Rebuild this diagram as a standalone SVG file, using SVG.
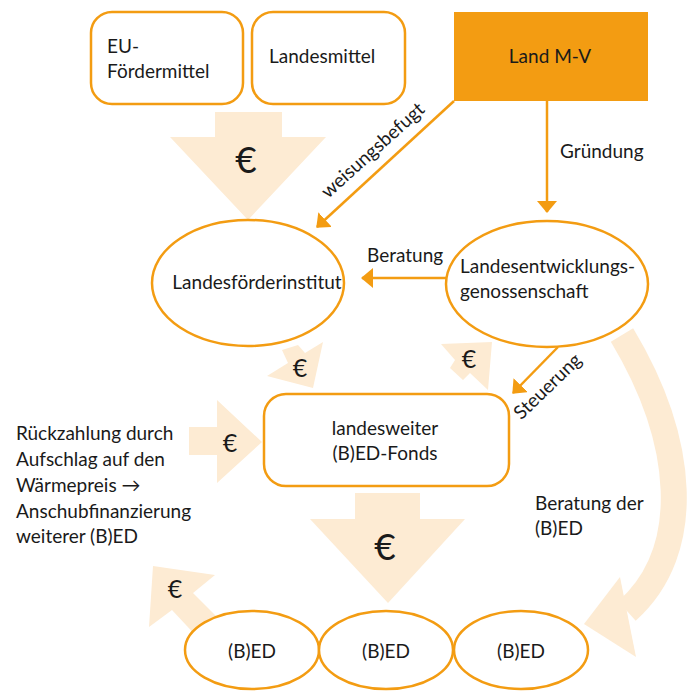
<svg xmlns="http://www.w3.org/2000/svg" width="692" height="691" viewBox="0 0 692 691">
<defs>
<style>
text{font-family:Lato,"Open Sans","Liberation Sans",sans-serif;font-size:19px;fill:#1a1a1a}
.box{fill:#fff;stroke:#F39C12;stroke-width:2.5}
.flow{fill:#FDEBD3}
.conn{stroke:#F39C12;stroke-width:2.5;fill:none;marker-end:url(#ah)}
.eur{font-size:25px;text-anchor:middle}
.eurB{font-size:37px;text-anchor:middle}
.mid{text-anchor:middle}
</style>
<marker id="ah" viewBox="0 0 12 20" refX="11" refY="10" markerWidth="12" markerHeight="20" markerUnits="userSpaceOnUse" orient="auto">
<path d="M0,0 L12,10 L0,20 z" fill="#F39C12"/>
</marker>
</defs>
<rect width="692" height="691" fill="#fff"/>

<g id="flows">
<polygon class="flow" points="215,112 282,112 282,137 326,137 248,220 170,137 215,137"/>
<polygon class="flow" points="355,493 420,493 420,519 465,519 388,603 310,519 355,519"/>
<polygon class="flow" points="189,427 217,427 217,400 262,442 217,483 217,455 189,455"/>
<polygon class="flow" points="153,566 215,575 193,593 225,625 200,640 172,610 149,627"/>
<polygon class="flow" points="282,350 298,345 305,353 323,342 313,388 267,376 288,363"/>
<polygon class="flow" points="441,344 492,342 488,390 470,373 463,380 450,368 455,360"/>
<path class="flow" d="M622,335 C685,440 695,550 627,611" style="fill:none;stroke:#FDEBD3;stroke-width:26"/>
<polygon class="flow" points="620,577 636,657 584,624"/>
<text class="eurB" x="246" y="173">€</text>
<text class="eurB" x="385" y="560">€</text>
<text class="eur" x="300" y="377">€</text>
<text class="eur" x="469" y="368">€</text>
<text class="eur" x="230" y="452">€</text>
<text class="eur" x="175" y="598">€</text>
</g>

<g id="connectors">
<line class="conn" x1="547" y1="101" x2="547" y2="212"/>
<line class="conn" x1="454" y1="101" x2="317" y2="227"/>
<line class="conn" x1="446" y1="278" x2="362" y2="278"/>
<line class="conn" x1="558" y1="347" x2="513" y2="393"/>
<text x="560" y="158">Gründung</text>
<text x="367" y="262">Beratung</text>
<text class="mid" transform="translate(377,155) rotate(-42)">weisungsbefugt</text>
<text class="mid" transform="translate(552,391) rotate(-44)">Steuerung</text>
<text x="535" y="510">Beratung der</text>
<text x="535" y="535">(B)ED</text>
<text x="16" y="440">Rückzahlung durch</text>
<text x="16" y="466">Aufschlag auf den</text>
<text x="16" y="492">Wärmepreis →</text>
<text x="16" y="518">Anschubfinanzierung</text>
<text x="16" y="543">weiterer (B)ED</text>
</g>

<g id="eu">
<rect class="box" x="91" y="12" width="152" height="92" rx="21"/>
<text x="107" y="53">EU-</text>
<text x="107" y="78">Fördermittel</text>
</g>
<g id="landesmittel">
<rect class="box" x="252" y="12" width="153" height="92" rx="21"/>
<text x="269" y="63">Landesmittel</text>
</g>
<g id="landmv">
<rect x="454" y="12" width="194" height="89" fill="#F39C12"/>
<text class="mid" x="550" y="63">Land M-V</text>
</g>
<g id="lfi">
<ellipse class="box" cx="248" cy="283" rx="96" ry="63"/>
<text class="mid" x="257" y="289">Landesförderinstitut</text>
</g>
<g id="leg">
<ellipse class="box" cx="547" cy="284" rx="101" ry="63"/>
<text x="460" y="273">Landesentwicklungs-</text>
<text x="460" y="298">genossenschaft</text>
</g>
<g id="fonds">
<rect class="box" x="264" y="394" width="245" height="92" rx="22"/>
<text class="mid" x="385" y="435">landesweiter</text>
<text class="mid" x="385" y="460">(B)ED-Fonds</text>
</g>
<g id="bed1">
<ellipse class="box" cx="252" cy="650" rx="67" ry="39"/>
<text class="mid" x="252" y="658">(B)ED</text>
</g>
<g id="bed2">
<ellipse class="box" cx="386" cy="650" rx="67" ry="39"/>
<text class="mid" x="386" y="658">(B)ED</text>
</g>
<g id="bed3">
<ellipse class="box" cx="521" cy="650" rx="67" ry="39"/>
<text class="mid" x="521" y="658">(B)ED</text>
</g>
</svg>
